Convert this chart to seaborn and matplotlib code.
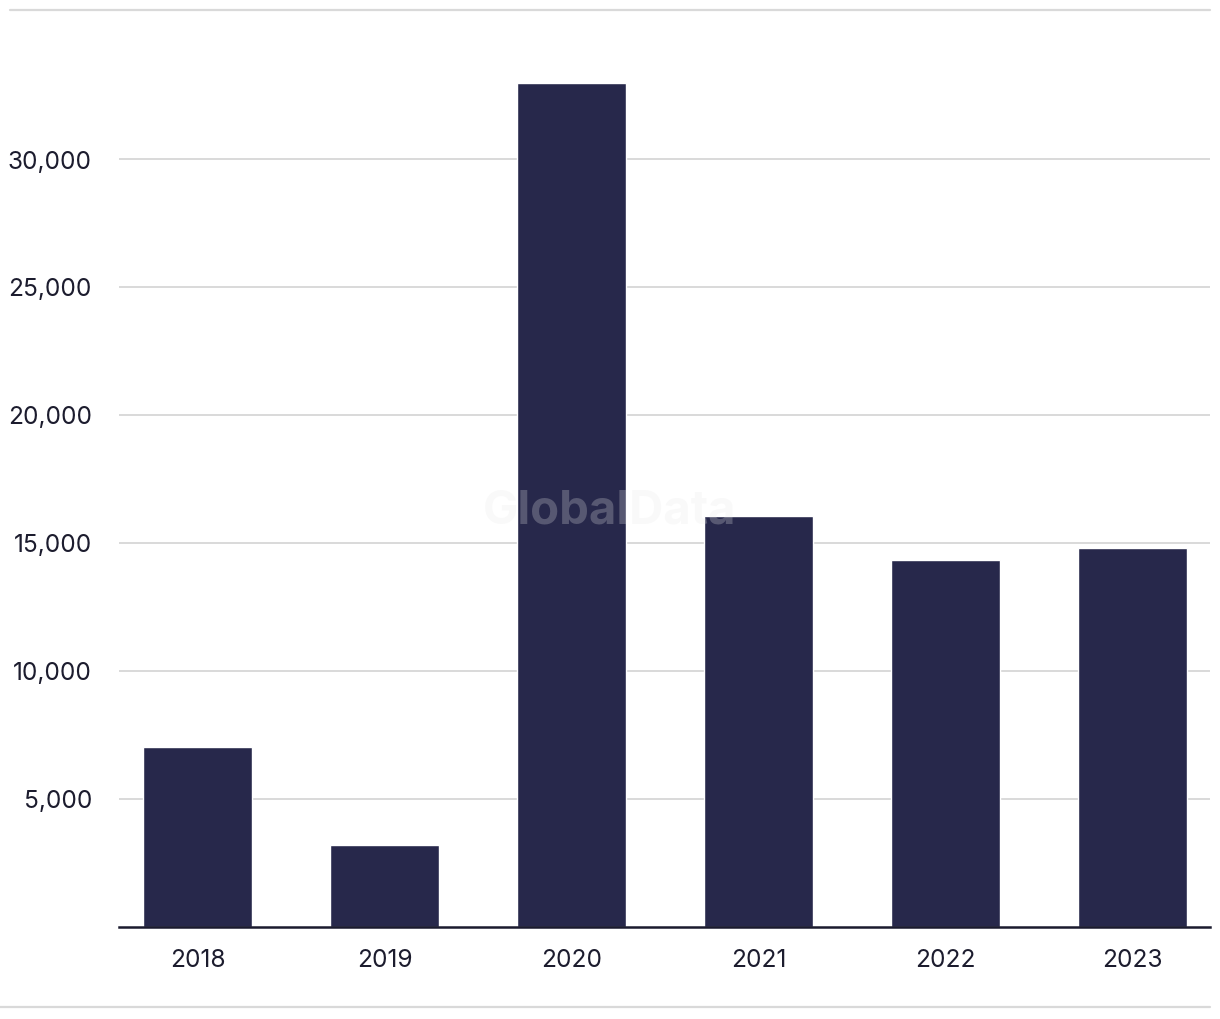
import matplotlib
matplotlib.use("Agg")
import matplotlib.pyplot as plt
import seaborn as sns
import pandas as pd
from matplotlib.lines import Line2D
from matplotlib.ticker import FuncFormatter

years = ["2018", "2019", "2020", "2021", "2022", "2023"]
values = [7000, 3170, 32950, 16020, 14300, 14780]
yticks = [5000, 10000, 15000, 20000, 25000, 30000]

sns.set_theme(style="white")
plt.rcParams['font.family'] = ['Inter', 'DejaVu Sans']

W, H = 1220, 1020
fig = plt.figure(figsize=(W / 100, H / 100), dpi=100)
ax = fig.add_axes([119 / W, (H - 927.5) / H, (1210 - 119) / W, (927.5 - 40) / H])

df = pd.DataFrame({"year": years, "value": values})
sns.barplot(data=df, x="year", y="value", color="#27284b", width=0.58,
            saturation=1, ax=ax, zorder=3)

ax.set_xlim(-0.42, 5.415)
ax.set_ylim(0, (927.5 - 40) / 128 * 5000)
ax.set_yticks(yticks)
ax.yaxis.set_major_formatter(FuncFormatter(lambda v, p: f"{int(v):,}"))
ax.grid(axis="y", color="#d9d9d9", linewidth=1.4, zorder=0)
ax.grid(axis="x", visible=False)
for s in ["top", "right", "left"]:
    ax.spines[s].set_visible(False)
ax.spines["bottom"].set_color("#1a1a2e")
ax.spines["bottom"].set_linewidth(1.8)
ax.spines["bottom"].set_zorder(4)
ax.set_xlabel("")
ax.set_ylabel("")
ax.tick_params(axis="both", length=0, labelsize=17.6, colors="#1c1c2e")
ax.tick_params(axis="y", pad=19.5)
ax.tick_params(axis="x", pad=15.5)

fig.add_artist(Line2D([10 / W, 1210 / W], [(H - 11) / H, (H - 11) / H],
                      color="#d9d9d9", linewidth=1.6, transform=fig.transFigure))
fig.add_artist(Line2D([0 / W, 1210 / W], [(H - 1008) / H, (H - 1008) / H],
                      color="#d9d9d9", linewidth=1.6, transform=fig.transFigure))

fig.text(610 / W, (H - 512) / H, "GlobalData", ha="center", va="center",
         fontsize=34, fontweight="bold", color="#e8e8e8", alpha=0.25, zorder=10)

fig.savefig("out.png", dpi=100, facecolor="white")
